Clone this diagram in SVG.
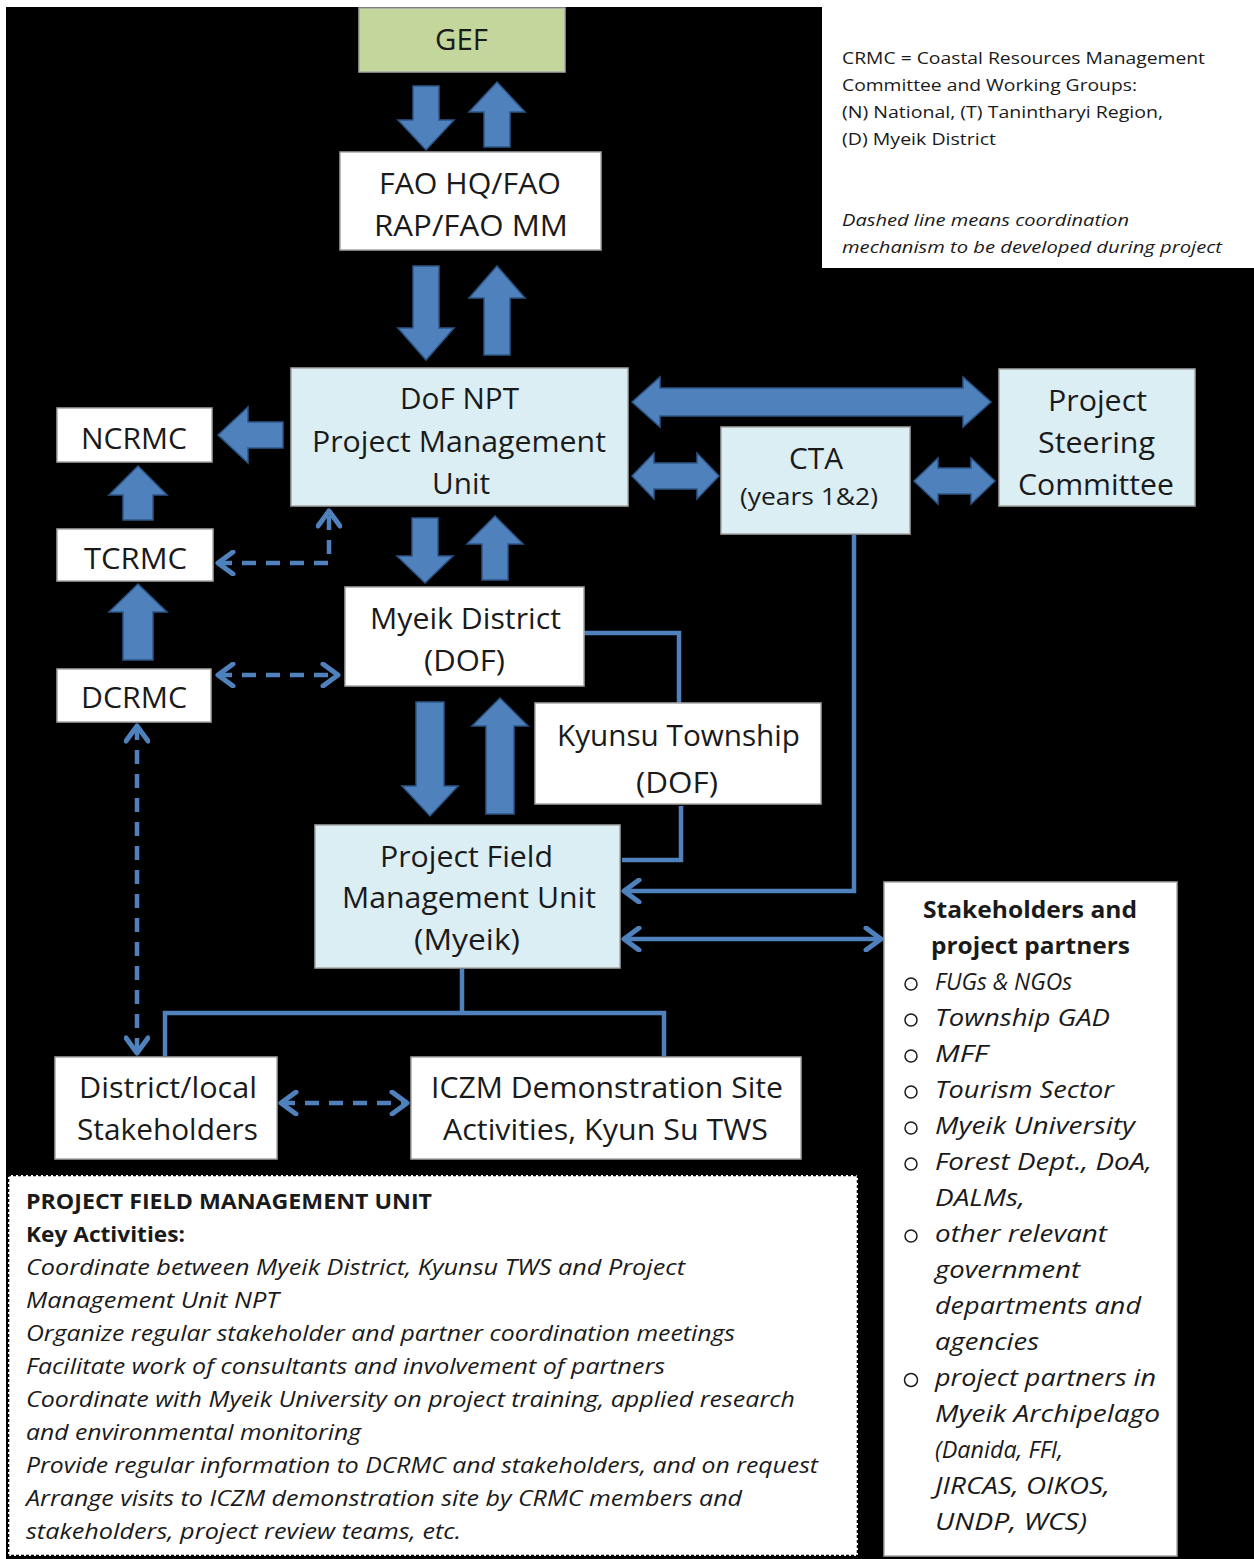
<svg xmlns="http://www.w3.org/2000/svg" width="1254" height="1559" viewBox="0 0 1254 1559">
<defs>
<style>
.bx{stroke:#a6a6a6;stroke-width:1.5}
.w{fill:#ffffff}
.b{fill:#dbeef4}
.g{fill:#c3d69b}
.t{font-family:"Open Sans","Liberation Sans",sans-serif;font-size:29px;fill:#1a1a1a}
.ts{font-family:"Open Sans","Liberation Sans",sans-serif;font-size:23px;fill:#1a1a1a}
.lg{font-family:"Open Sans","Liberation Sans",sans-serif;font-size:17px;fill:#1a1a1a}
.bt{font-family:"Open Sans","Liberation Sans",sans-serif;font-size:21px;fill:#1a1a1a}
.sk{font-family:"Open Sans","Liberation Sans",sans-serif;font-size:23.5px;fill:#1a1a1a}
.i{font-style:italic}
.bo{font-weight:bold}
.ba{fill:#4f81bd;stroke:#2c5585;stroke-width:1.5;stroke-linejoin:miter}
.ln{fill:none;stroke:#4f81bd;stroke-width:4.5}
.ds{fill:none;stroke:#4f81bd;stroke-width:4.5;stroke-dasharray:14 10}
</style>
<marker id="chev" markerUnits="userSpaceOnUse" markerWidth="22" markerHeight="26" viewBox="0 0 22 26" refX="19" refY="13" orient="auto-start-reverse">
<path d="M4,2 L19,13 L4,24" fill="none" stroke="#4f81bd" stroke-width="5" stroke-dasharray="none" stroke-linecap="round" stroke-linejoin="round"/>
</marker>
</defs>
<rect x="0" y="0" width="1254" height="1559" fill="#ffffff"/>
<rect x="6" y="7" width="1248" height="1552" fill="#000000"/>

<g id="legend">
<rect x="822" y="7" width="432" height="261" fill="#ffffff"/>
<text class="lg" x="842" y="64" textLength="363" lengthAdjust="spacingAndGlyphs">CRMC = Coastal Resources Management</text>
<text class="lg" x="842" y="91" textLength="295" lengthAdjust="spacingAndGlyphs">Committee and Working Groups:</text>
<text class="lg" x="842" y="118" textLength="321" lengthAdjust="spacingAndGlyphs">(N) National, (T) Tanintharyi Region,</text>
<text class="lg" x="842" y="145" textLength="154" lengthAdjust="spacingAndGlyphs">(D) Myeik District</text>
<text class="lg i" x="842" y="226" textLength="287" lengthAdjust="spacingAndGlyphs">Dashed line means coordination</text>
<text class="lg i" x="842" y="253" textLength="380" lengthAdjust="spacingAndGlyphs">mechanism to be developed during project</text>
</g>

<g id="connectors">
<path class="ba" d="M413,86 H439 V120 H454 L426,150 L398,120 H413 Z"/>
<path class="ba" d="M497,82 L525,112 H510 V147 H484 V112 H469 Z"/>
<path class="ba" d="M413,266 H439 V328 H454 L426,360 L398,328 H413 Z"/>
<path class="ba" d="M497,266 L525,298 H510 V355 H484 V298 H469 Z"/>
<path class="ba" d="M412,518 H438 V556 H453 L425,583 L397,556 H412 Z"/>
<path class="ba" d="M495,516 L523,544 H508 V580 H482 V544 H467 Z"/>
<path class="ba" d="M416,702 H444 V786 H458 L430,816 L402,786 H416 Z"/>
<path class="ba" d="M500,698 L528,726 H514 V814 H486 V726 H472 Z"/>
<path class="ba" d="M218,435 L248,407 V422 H283 V448 H248 V463 Z"/>
<path class="ba" d="M138,466 L167,495 H153 V520 H123 V495 H109 Z"/>
<path class="ba" d="M138,584 L167,612 H153 V660 H123 V612 H109 Z"/>
<path class="ba" d="M632,402 L660,377 V388 H963 V377 L991,402 L963,427 V416 H660 V427 Z"/>
<path class="ba" d="M632,476 L654,453 V463 H697 V453 L719,476 L697,499 V489 H654 V499 Z"/>
<path class="ba" d="M914,481 L938,458 V468 H971 V458 L995,481 L971,504 V494 H938 V504 Z"/>
<path class="ln" d="M584,633 H679 V703"/>
<path class="ln" d="M681,806 V860 H622"/>
<path class="ln" d="M854,535 V891 H624" marker-end="url(#chev)"/>
<path class="ln" d="M624,939 H881" marker-start="url(#chev)" marker-end="url(#chev)"/>
<path class="ln" d="M462,969 V1013"/>
<path class="ln" d="M165,1056 V1013 H664 V1056"/>
<path class="ds" d="M218,563 H329 V511" marker-start="url(#chev)" marker-end="url(#chev)"/>
<path class="ds" d="M218,675 H338" marker-start="url(#chev)" marker-end="url(#chev)"/>
<path class="ds" d="M137,726 V1053" marker-start="url(#chev)" marker-end="url(#chev)"/>
<path class="ds" d="M281,1103 H407" marker-start="url(#chev)" marker-end="url(#chev)"/>
</g>

<g id="gef">
<rect class="bx g" x="359" y="8" width="206" height="64"/>
<text class="t" x="435" y="50" textLength="53" lengthAdjust="spacingAndGlyphs">GEF</text>
</g>
<g id="fao">
<rect class="bx w" x="340" y="152" width="261" height="98"/>
<text class="t" x="379" y="194" textLength="182" lengthAdjust="spacingAndGlyphs">FAO HQ/FAO</text>
<text class="t" x="374" y="236" textLength="194" lengthAdjust="spacingAndGlyphs">RAP/FAO MM</text>
</g>
<g id="dof">
<rect class="bx b" x="291" y="368" width="337" height="138"/>
<text class="t" x="400" y="409" textLength="119" lengthAdjust="spacingAndGlyphs">DoF NPT</text>
<text class="t" x="312" y="452" textLength="294" lengthAdjust="spacingAndGlyphs">Project Management</text>
<text class="t" x="432" y="494" textLength="58" lengthAdjust="spacingAndGlyphs">Unit</text>
</g>
<g id="ncrmc">
<rect class="bx w" x="57" y="408" width="155" height="54"/>
<text class="t" x="81" y="449" textLength="106" lengthAdjust="spacingAndGlyphs">NCRMC</text>
</g>
<g id="tcrmc">
<rect class="bx w" x="57" y="529" width="156" height="52"/>
<text class="t" x="84" y="569" textLength="103" lengthAdjust="spacingAndGlyphs">TCRMC</text>
</g>
<g id="dcrmc">
<rect class="bx w" x="57" y="669" width="154" height="53"/>
<text class="t" x="81" y="708" textLength="106" lengthAdjust="spacingAndGlyphs">DCRMC</text>
</g>
<g id="myeik">
<rect class="bx w" x="345" y="587" width="239" height="99"/>
<text class="t" x="370" y="629" textLength="191" lengthAdjust="spacingAndGlyphs">Myeik District</text>
<text class="t" x="424" y="671" textLength="81" lengthAdjust="spacingAndGlyphs">(DOF)</text>
</g>
<g id="cta">
<rect class="bx b" x="721" y="427" width="189" height="107"/>
<text class="t" x="789" y="469" textLength="54" lengthAdjust="spacingAndGlyphs">CTA</text>
<text class="ts" x="740" y="505" textLength="138" lengthAdjust="spacingAndGlyphs">(years 1&amp;2)</text>
</g>
<g id="psc">
<rect class="bx b" x="999" y="369" width="196" height="137"/>
<text class="t" x="1048" y="411" textLength="99" lengthAdjust="spacingAndGlyphs">Project</text>
<text class="t" x="1038" y="453" textLength="117" lengthAdjust="spacingAndGlyphs">Steering</text>
<text class="t" x="1018" y="495" textLength="156" lengthAdjust="spacingAndGlyphs">Committee</text>
</g>
<g id="kyunsu">
<rect class="bx w" x="535" y="703" width="286" height="101"/>
<text class="t" x="557" y="746" textLength="243" lengthAdjust="spacingAndGlyphs">Kyunsu Township</text>
<text class="t" x="636" y="793" textLength="82" lengthAdjust="spacingAndGlyphs">(DOF)</text>
</g>
<g id="pfmu">
<rect class="bx b" x="315" y="825" width="305" height="143"/>
<text class="t" x="380" y="867" textLength="173" lengthAdjust="spacingAndGlyphs">Project Field</text>
<text class="t" x="342" y="908" textLength="254" lengthAdjust="spacingAndGlyphs">Management Unit</text>
<text class="t" x="414" y="950" textLength="106" lengthAdjust="spacingAndGlyphs">(Myeik)</text>
</g>
<g id="district">
<rect class="bx w" x="55" y="1057" width="222" height="102"/>
<text class="t" x="79" y="1098" textLength="178" lengthAdjust="spacingAndGlyphs">District/local</text>
<text class="t" x="77" y="1140" textLength="181" lengthAdjust="spacingAndGlyphs">Stakeholders</text>
</g>
<g id="iczm">
<rect class="bx w" x="411" y="1057" width="390" height="102"/>
<text class="t" x="431" y="1098" textLength="352" lengthAdjust="spacingAndGlyphs">ICZM Demonstration Site</text>
<text class="t" x="443" y="1140" textLength="325" lengthAdjust="spacingAndGlyphs">Activities, Kyun Su TWS</text>
</g>

<g id="activities">
<rect x="8" y="1175" width="850" height="381" fill="#ffffff" stroke="#000000" stroke-width="2.5" stroke-dasharray="3 2"/>
<text class="bt bo" x="26" y="1209" textLength="406" lengthAdjust="spacingAndGlyphs">PROJECT FIELD MANAGEMENT UNIT</text>
<text class="bt bo" x="26" y="1242" textLength="159" lengthAdjust="spacingAndGlyphs">Key Activities:</text>
<text class="bt i" x="26" y="1275" textLength="659" lengthAdjust="spacingAndGlyphs">Coordinate between Myeik District, Kyunsu TWS and Project</text>
<text class="bt i" x="26" y="1308" textLength="253" lengthAdjust="spacingAndGlyphs">Management Unit NPT</text>
<text class="bt i" x="26" y="1341" textLength="709" lengthAdjust="spacingAndGlyphs">Organize regular stakeholder and partner coordination meetings</text>
<text class="bt i" x="26" y="1374" textLength="639" lengthAdjust="spacingAndGlyphs">Facilitate work of consultants and involvement of partners</text>
<text class="bt i" x="26" y="1407" textLength="769" lengthAdjust="spacingAndGlyphs">Coordinate with Myeik University on project training, applied research</text>
<text class="bt i" x="26" y="1440" textLength="335" lengthAdjust="spacingAndGlyphs">and environmental monitoring</text>
<text class="bt i" x="26" y="1473" textLength="792" lengthAdjust="spacingAndGlyphs">Provide regular information to DCRMC and stakeholders, and on request</text>
<text class="bt i" x="26" y="1506" textLength="716" lengthAdjust="spacingAndGlyphs">Arrange visits to ICZM demonstration site by CRMC members and</text>
<text class="bt i" x="26" y="1539" textLength="435" lengthAdjust="spacingAndGlyphs">stakeholders, project review teams, etc.</text>
</g>

<g id="stakeholders">
<rect class="bx w" x="884" y="882" width="293" height="674"/>
<text class="sk bo" x="923" y="918" textLength="214" lengthAdjust="spacingAndGlyphs">Stakeholders and</text>
<text class="sk bo" x="931" y="954" textLength="199" lengthAdjust="spacingAndGlyphs">project partners</text>
<g fill="none" stroke="#1a1a1a" stroke-width="1.5">
<circle cx="911" cy="984" r="6"/>
<circle cx="911" cy="1020" r="6"/>
<circle cx="911" cy="1056" r="6"/>
<circle cx="911" cy="1092" r="6"/>
<circle cx="911" cy="1128" r="6"/>
<circle cx="911" cy="1164" r="6"/>
<circle cx="911" cy="1236" r="6"/>
<circle cx="911" cy="1380" r="6.5"/>
</g>
<text class="sk i" x="935" y="990" textLength="137" lengthAdjust="spacingAndGlyphs">FUGs &amp; NGOs</text>
<text class="sk i" x="935" y="1026" textLength="175" lengthAdjust="spacingAndGlyphs">Township GAD</text>
<text class="sk i" x="935" y="1062" textLength="53" lengthAdjust="spacingAndGlyphs">MFF</text>
<text class="sk i" x="935" y="1098" textLength="179" lengthAdjust="spacingAndGlyphs">Tourism Sector</text>
<text class="sk i" x="935" y="1134" textLength="200" lengthAdjust="spacingAndGlyphs">Myeik University</text>
<text class="sk i" x="935" y="1170" textLength="217" lengthAdjust="spacingAndGlyphs">Forest Dept., DoA,</text>
<text class="sk i" x="935" y="1206" textLength="90" lengthAdjust="spacingAndGlyphs">DALMs,</text>
<text class="sk i" x="935" y="1242" textLength="172" lengthAdjust="spacingAndGlyphs">other relevant</text>
<text class="sk i" x="935" y="1278" textLength="145" lengthAdjust="spacingAndGlyphs">government</text>
<text class="sk i" x="935" y="1314" textLength="206" lengthAdjust="spacingAndGlyphs">departments and</text>
<text class="sk i" x="935" y="1350" textLength="104" lengthAdjust="spacingAndGlyphs">agencies</text>
<text class="sk i" x="935" y="1386" textLength="221" lengthAdjust="spacingAndGlyphs">project partners in</text>
<text class="sk i" x="935" y="1422" textLength="225" lengthAdjust="spacingAndGlyphs">Myeik Archipelago</text>
<text class="sk i" x="935" y="1458" textLength="128" lengthAdjust="spacingAndGlyphs">(Danida, FFI,</text>
<text class="sk i" x="935" y="1494" textLength="175" lengthAdjust="spacingAndGlyphs">JIRCAS, OIKOS,</text>
<text class="sk i" x="935" y="1530" textLength="152" lengthAdjust="spacingAndGlyphs">UNDP, WCS)</text>
</g>
</svg>
